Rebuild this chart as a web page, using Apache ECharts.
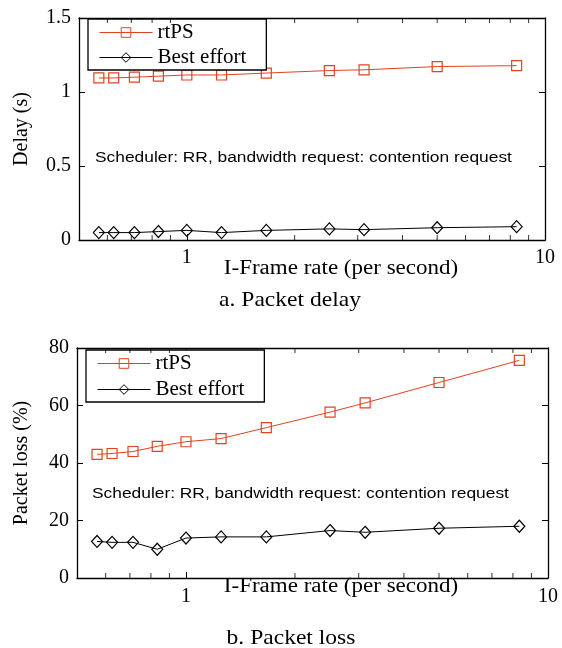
<!DOCTYPE html>
<html>
<head>
<meta charset="utf-8">
<script src="https://cdn.jsdelivr.net/npm/echarts@6/dist/echarts.min.js"></script>
<style>
html,body{margin:0;padding:0;background:#fff;}
#main{width:562px;height:648px;}
</style>
</head>
<body>
<div id="main"></div>
<script>
// I-frame rate (per second), log x axis
var frameRate=[0.568,0.625,0.714,0.833,1,1.25,1.667,2.5,3.125,5,8.333];
// a. packet delay (s)
var delayRtps=[1.095,1.095,1.100,1.107,1.115,1.115,1.128,1.145,1.150,1.172,1.178];
var delayBe=[0.050,0.050,0.050,0.057,0.065,0.050,0.065,0.075,0.070,0.083,0.090];
// b. packet loss (%)
var lossRtps=[43.0,43.3,44.0,45.8,47.4,48.5,52.3,57.7,60.9,68.0,75.7];
var lossBe=[12.7,12.4,12.4,10.0,13.9,14.3,14.3,16.5,15.9,17.3,18.0];
// axis ticks
var xLabels=[1,10];
var xMinorTicks=[0.6,0.7,0.8,0.9,2,3,4,5,6,7,8,9];
var delayTicks=[0,0.5,1,1.5];
var lossTicks=[0,20,40,60,80];

var serif="'Liberation Serif','Times New Roman',serif";
var sans="'Liberation Sans',Arial,sans-serif";
var red='#e2431f';

var chart=echarts.init(document.getElementById('main'));

function pairs(xs,ys){
	return xs.map(function(x,i){return [x,ys[i]];});
}

function xAxisPair(gi){
	var base={
		type:'log',logBase:10,gridIndex:gi,min:0.5,max:10,
		axisLine:{onZero:false,lineStyle:{color:'#000',width:1.3}},
		axisTick:{inside:true,length:6,lineStyle:{color:'#000',width:1}},
		splitLine:{show:false}
	};
	var bottom=echarts.util.merge({
		position:'bottom',
		axisLabel:{
			color:'#000',fontFamily:serif,fontSize:20,margin:gi==0?8:9,
			formatter:function(v){
				for(var i=0;i<xLabels.length;i++){
					if(Math.abs(v-xLabels[i])<1e-6) return String(xLabels[i]);
				}
				return '';
			}
		}
	},base,true);
	var top=echarts.util.merge({position:'top',axisLabel:{show:false}},base,true);
	return [bottom,top];
}

function yAxisPair(gi,ticks){
	var base={
		type:'value',gridIndex:gi,min:ticks[0],max:ticks[ticks.length-1],
		interval:ticks[1]-ticks[0],
		axisLine:{show:true,onZero:false,lineStyle:{color:'#000',width:1.3}},
		axisTick:{show:true,inside:true,length:6,lineStyle:{color:'#000',width:1}},
		splitLine:{show:false}
	};
	var left=echarts.util.merge({
		position:'left',
		axisLabel:{color:'#000',fontFamily:serif,fontSize:20,margin:8}
	},base,true);
	var right=echarts.util.merge({position:'right',axisLabel:{show:false}},base,true);
	return [left,right];
}

function minorSeries(xi,yi,yBottom,yTop){
	var common={
		type:'scatter',xAxisIndex:xi,yAxisIndex:yi,symbol:'rect',symbolSize:[1,5],
		itemStyle:{color:'#000'},silent:true,clip:false,z:5,animation:false
	};
	return [
		echarts.util.merge({data:xMinorTicks.map(function(v){return [v,yBottom];}),symbolOffset:[0,-2.5]},common,true),
		echarts.util.merge({data:xMinorTicks.map(function(v){return [v,yTop];}),symbolOffset:[0,2.5]},common,true)
	];
}

function lineSeries(xi,yi,rtps,be){
	return [
		{
			name:'rtPS',type:'line',xAxisIndex:xi,yAxisIndex:yi,
			data:pairs(frameRate,rtps),showSymbol:true,
			symbol:'rect',symbolSize:10,
			lineStyle:{color:red,width:1},
			itemStyle:{color:'rgba(255,255,255,0)',borderColor:red,borderWidth:1.2},
			animation:false,z:3
		},
		{
			name:'Best effort',type:'line',xAxisIndex:xi,yAxisIndex:yi,
			data:pairs(frameRate,be),showSymbol:true,
			symbol:'diamond',symbolSize:[11,12],
			lineStyle:{color:'#000',width:1},
			itemStyle:{color:'rgba(255,255,255,0)',borderColor:'#000',borderWidth:1.2},
			animation:false,z:3
		}
	];
}

function legendBox(left,top,gap){
	return {
		orient:'vertical',left:left,top:top,
		data:['rtPS','Best effort'],
		itemWidth:53,itemHeight:12,itemGap:gap,
		padding:[3,20,2,11],
		borderColor:'#000',borderWidth:1.3,backgroundColor:'#fff',
		selectedMode:false,
		lineStyle:{width:1},
		itemStyle:{borderWidth:1},
		textStyle:{fontFamily:serif,fontSize:21,color:'#000',lineHeight:21}
	};
}

function label(text,x,y,font,size,opts){
	return echarts.util.merge({
		type:'text',x:x,y:y,silent:true,
		style:{text:text,fill:'#000',font:size+'px '+font,textAlign:'center',textVerticalAlign:'middle'}
	},opts||{},true);
}

var option={
	backgroundColor:'#fff',
	animation:false,
	grid:[
		{left:79,right:17,top:18,height:222},
		{left:77,right:14,top:348,height:230}
	],
	xAxis:xAxisPair(0).concat(xAxisPair(1)),
	yAxis:yAxisPair(0,delayTicks).concat(yAxisPair(1,lossTicks)),
	legend:[legendBox(88,19,4),legendBox(86,350,5)],
	series:[]
		.concat(lineSeries(0,0,delayRtps,delayBe))
		.concat(lineSeries(2,2,lossRtps,lossBe))
		.concat(minorSeries(0,0,delayTicks[0],delayTicks[delayTicks.length-1]))
		.concat(minorSeries(2,2,lossTicks[0],lossTicks[lossTicks.length-1])),
	graphic:[
		// axis titles
		label('Delay (s)',22,129,serif,20,{rotation:Math.PI/2}),
		label('Packet loss (%)',22,463,serif,20,{rotation:Math.PI/2}),
		label('I-Frame rate (per second)',341,269,serif,20,{scaleX:1.15}),
		label('I-Frame rate (per second)',341,587,serif,20,{scaleX:1.15}),
		// captions
		label('a. Packet delay',290,300,serif,22,{scaleX:1.07}),
		label('b. Packet loss',291,638,serif,22,{scaleX:1.07}),
		// notes
		label('Scheduler: RR, bandwidth request: contention request',95,158,sans,15.5,{scaleX:1.12,style:{textAlign:'left'}}),
		label('Scheduler: RR, bandwidth request: contention request',92,494,sans,15.5,{scaleX:1.12,style:{textAlign:'left'}})
	]
};
chart.setOption(option);
</script>
</body>
</html>
